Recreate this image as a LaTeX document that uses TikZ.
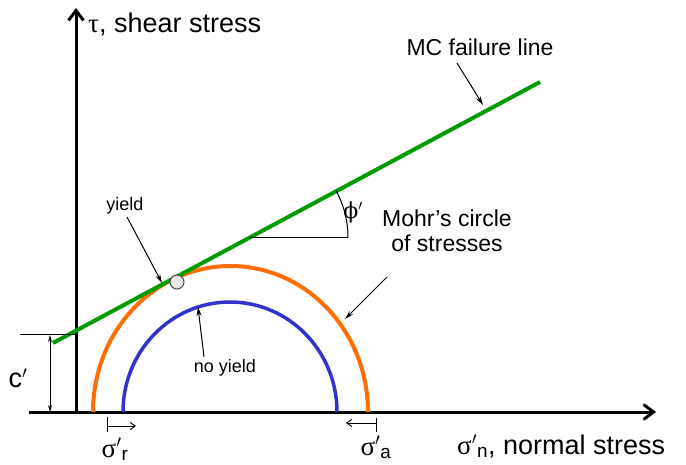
\documentclass[tikz,border=0pt]{standalone}
\usepackage{fontspec}
\setmainfont{Liberation Sans}
\setsansfont{Liberation Sans}
\newfontfamily\grk{Liberation Serif}
\newfontfamily\phifont{DejaVu Serif}
\usetikzlibrary{arrows.meta,positioning,calc}
\definecolor{mcgreen}{RGB}{0,155,0}
\definecolor{mohrorange}{RGB}{255,110,0}
\definecolor{mohrblue}{RGB}{50,50,205}

\begin{document}
\begin{tikzpicture}[
  x=1pt, y=-1pt,
  axis/.style={line width=3pt, -{Straight Barb[length=10pt,width=15pt]}},
  note/.style={line width=1pt, -{Stealth[length=9pt,width=5pt]}},
  shiftarrow/.style={line width=0.9pt, -{Straight Barb[length=5pt,width=7pt]}},
  big/.style={font=\fontsize{27}{30}\selectfont, inner sep=0pt},
  mid/.style={font=\fontsize{23}{25}\selectfont, inner sep=0pt, align=center},
  small/.style={font=\fontsize{18}{20}\selectfont, inner sep=0pt}
]
\useasboundingbox (0,0) rectangle (686,465);
% axes
\coordinate (O) at (76,412);
\coordinate (xstart) at (29,412);
\coordinate (xend) at (656,412);
\coordinate (yend) at (76,8);
\draw[axis] (xstart) -- (xend);
\draw[axis] (O) -- (yend);
\node[big, anchor=base west] (taulab) at (88,33) {{\grk τ}, shear stress};
\node[big, anchor=base west] (sigmalab) at (457,454) {{\grk σ}$'$\textsubscript{n}, normal stress};

% Mohr circles
\draw[mohrorange, line width=4pt] (93,412) arc[start angle=180, end angle=360, x radius=137.5, y radius=146];
\draw[mohrblue, line width=3.5pt] (123,412) arc[start angle=180, end angle=360, x radius=107, y radius=110];

% failure line
\coordinate (g1) at (53,343);
\coordinate (g2) at (540,82);
\draw[mcgreen, line width=4pt] (g1) -- (g2);

% cohesion
\coordinate (c1) at (20,335);
\coordinate (c2) at (76,335);
\draw[line width=1pt] (c1) -- (c2);
\coordinate (ct) at (50,335);
\coordinate (cb) at (50,412);
\draw[line width=0.8pt, {Stealth[length=7pt,width=4pt]}-{Stealth[length=7pt,width=4pt]}] (ct) -- (cb);
\node[big] (clab) at (18,378) {c$'$};

% friction angle
\coordinate (p0) at (250,237.5);
\coordinate (p1) at (348,237.5);
\draw[line width=1pt] (p0) -- (p1);
\draw[line width=1pt] (p1) arc[start angle=0, end angle=-28.2, radius=98];
\node[font=\fontsize{22}{24}\selectfont, inner sep=0pt] (philab) at (353,212) {{\phifont ϕ}$'$};

% yield point
\node[draw=black!70, fill=black!10, circle, minimum size=14pt, inner sep=0pt, line width=1pt] (yp) at (177,282) {};

% labels with arrows
\node[mid, anchor=base] (mclab) at (480,56) {MC failure line};
\coordinate (mctip) at (483,105);
\draw[note] (457,63) -- (mctip);

\node[mid, anchor=base] (mohrlab) at (447,252) {Mohr’s circle\\of stresses};
\coordinate (mohrtip) at (345,319);
\draw[note] (387,277) -- (mohrtip);

\node[small, anchor=base] (yieldlab) at (125,211) {yield};
\coordinate (ytip) at (162,283);
\draw[note] (127,217) -- (ytip);

\node[small, anchor=base] (noyieldlab) at (225,373) {no yield};
\coordinate (nytip) at (198,307);
\draw[note] (204,357) -- (nytip);

% principal stress shifts
\draw[line width=0.9pt] (107,417) -- (107,432);
\coordinate (r0) at (107,426);
\coordinate (r1) at (136,426);
\draw[shiftarrow] (r0) -- (r1);
\node[big, anchor=base] (srlab) at (115,457) {{\grk σ}$'$\textsubscript{r}};

\draw[line width=0.9pt] (376,418) -- (376,432);
\coordinate (a0) at (376,423);
\coordinate (a1) at (346,423);
\draw[shiftarrow] (a0) -- (a1);
\node[big, anchor=base] (salab) at (376,455) {{\grk σ}$'$\textsubscript{a}};
\end{tikzpicture}
\end{document}
